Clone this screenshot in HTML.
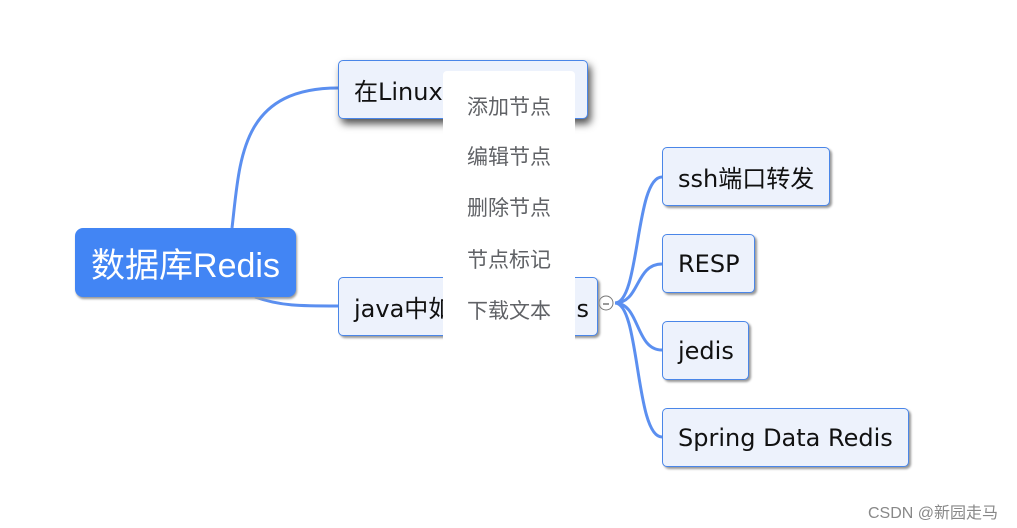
<!DOCTYPE html>
<html><head><meta charset="utf-8"><style>
body{margin:0;width:1017px;height:528px;background:#fff;position:relative;overflow:hidden;font-family:"Liberation Sans","Noto Sans CJK SC",sans-serif}
.n{position:absolute;box-sizing:border-box;background:#edf2fc;border:1px solid #4a86e8;border-radius:5px;box-shadow:2px 2px 2px #999;font-size:24px;color:#111;display:flex;align-items:center;padding-left:15px;font-family:"DejaVu Sans","Noto Sans CJK SC",sans-serif}
.root{position:absolute;left:75px;top:228px;width:221px;height:69px;background:#4285f4;border-radius:8px;color:#fff;font-size:34px;display:flex;align-items:center;justify-content:center;box-shadow:1px 2px 2px #999}
.menu{position:absolute;left:443px;top:71px;width:132px;height:272px;background:#fff;border-radius:4px}
.menu div{position:absolute;left:24px;font-size:21px;color:#606266}
</style></head><body>
<svg width="1017" height="528" style="position:absolute;left:0;top:0">
<g fill="none" stroke="#5b8ff0" stroke-width="3">
<path d="M232 228 C240 160,240 88,338 88"/>
<path d="M255 297 C280 306,300 306,338 306"/>
<path d="M615 303 C640 303,635 177,662 177"/>
<path d="M615 303 C640 303,635 264,662 264"/>
<path d="M615 303 C640 303,635 350,662 350"/>
<path d="M615 303 C640 303,635 437,662 437"/>
</g>
<circle cx="606" cy="303" r="7" fill="#fff" stroke="#777" stroke-width="1"/>
<line x1="603" y1="304" x2="609" y2="304" stroke="#333"/>
</svg>
<div class="root">数据库Redis</div>
<div class="n" style="left:338px;top:60px;width:250px;height:59px;box-shadow:3px 5px 8px #555">在Linux</div>
<div class="n" style="left:338px;top:277px;width:260px;height:59px">java中如何操作Redis</div>
<div class="n" style="left:662px;top:147px;width:168px;height:59px">ssh端口转发</div>
<div class="n" style="left:662px;top:234px;width:93px;height:59px">RESP</div>
<div class="n" style="left:662px;top:321px;width:87px;height:59px">jedis</div>
<div class="n" style="left:662px;top:408px;width:247px;height:59px">Spring Data Redis</div>
<div class="menu">
<div style="top:20px">添加节点</div>
<div style="top:70px">编辑节点</div>
<div style="top:121px">删除节点</div>
<div style="top:173px">节点标记</div>
<div style="top:224px">下载文本</div>
</div>
<div style="position:absolute;left:868px;top:499px;font-size:16px;color:#888">CSDN @新园走马</div>
</body></html>
